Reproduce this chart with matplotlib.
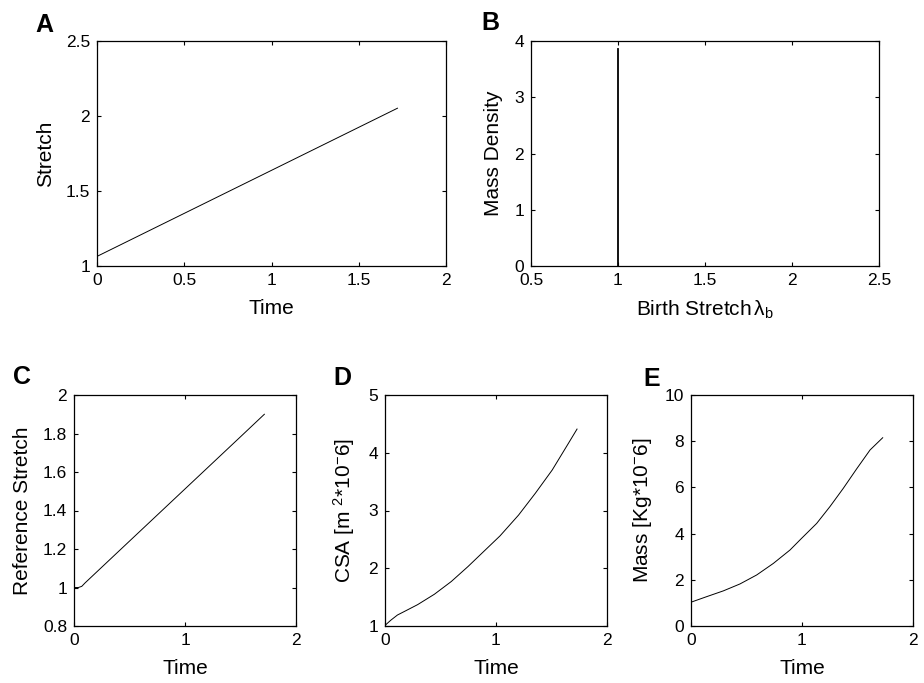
import numpy as np
import matplotlib
matplotlib.use('Agg')
from matplotlib import pyplot as plt

plt.rcParams['font.family'] = ['Liberation Sans', 'DejaVu Sans']
plt.rcParams['mathtext.fontset'] = 'custom'
plt.rcParams['mathtext.rm'] = 'Liberation Sans'
plt.rcParams['mathtext.it'] = 'Liberation Sans:italic'

# A: stretch vs time
time_a = [0.0, 1.722]
stretch_a = [1.064, 2.052]

# B: mass density over birth stretch (spike at lambda_b = 1)
birth_stretch = [1.0, 1.0]
mass_density = [0.0, 3.85]

# C: reference stretch vs time
time_c = [0.0, 0.04, 0.07, 0.1, 0.5, 1.0, 1.5, 1.715]
ref_stretch = [1.0, 1.0, 1.006, 1.024, 1.241, 1.512, 1.783, 1.90]

# D: cross sectional area vs time
time_d = [0.0, 0.052, 0.112, 0.173, 0.294, 0.445, 0.597, 0.748, 0.9, 1.036,
          1.203, 1.355, 1.506, 1.642, 1.73]
csa = [1.01, 1.10, 1.19, 1.25, 1.37, 1.55, 1.77, 2.03, 2.31, 2.56, 2.92,
       3.30, 3.70, 4.13, 4.41]

# E: mass vs time
time_e = [0.0, 0.141, 0.291, 0.441, 0.592, 0.742, 0.892, 0.991, 1.132,
          1.252, 1.372, 1.492, 1.613, 1.727]
mass = [1.03, 1.27, 1.52, 1.82, 2.21, 2.71, 3.29, 3.77, 4.44, 5.17, 5.96,
        6.80, 7.62, 8.15]

W, H = 924, 683
fig = plt.figure(figsize=(W / 100, H / 100), dpi=100)


def px_axes(x0, y0, x1, y1):
  return fig.add_axes([x0 / W, 1 - y1 / H, (x1 - x0) / W, (y1 - y0) / H])


def style(ax, xlim, ylim, xticks, yticks, xlabel, ylabel):
  ax.set_xlim(*xlim)
  ax.set_ylim(*ylim)
  ax.set_xticks(xticks)
  ax.set_yticks(yticks)
  ax.set_xticklabels([f'{v:g}' for v in xticks])
  ax.set_yticklabels([f'{v:g}' for v in yticks])
  ax.tick_params(direction='in', top=True, right=True, length=3, width=0.8,
                 labelsize=12.5, pad=5)
  for s in ax.spines.values():
    s.set_linewidth(0.9)
  ax.set_xlabel(xlabel, fontsize=15, labelpad=8)
  ax.set_ylabel(ylabel, fontsize=15, labelpad=8)


ax_a = px_axes(97, 41, 446, 266)
ax_a.plot(time_a, stretch_a, color='k', lw=0.7)
style(ax_a, (0, 2), (1, 2.5), [0, 0.5, 1, 1.5, 2], [1, 1.5, 2, 2.5],
      'Time', 'Stretch')

ax_b = px_axes(531, 41, 879, 266)
ax_b.plot(birth_stretch, mass_density, color='k', lw=1.3)
style(ax_b, (0.5, 2.5), (0, 4), [0.5, 1, 1.5, 2, 2.5], [0, 1, 2, 3, 4],
      'Birth Stretch$\\,\\mathrm{\\lambda}_\\mathrm{b}$', 'Mass Density')

ax_c = px_axes(74, 395, 296, 626)
ax_c.plot(time_c, ref_stretch, color='k', lw=0.7)
style(ax_c, (0, 2), (0.8, 2), [0, 1, 2], [0.8, 1, 1.2, 1.4, 1.6, 1.8, 2],
      'Time', 'Reference Stretch')

ax_d = px_axes(385, 395, 607, 626)
ax_d.plot(time_d, csa, color='k', lw=0.7)
style(ax_d, (0, 2), (1, 5), [0, 1, 2], [1, 2, 3, 4, 5],
      'Time', 'CSA [m $^{2}$*10$^{-}$6]')

ax_e = px_axes(691, 395, 913, 626)
ax_e.plot(time_e, mass, color='k', lw=0.7)
style(ax_e, (0, 2), (0, 10), [0, 1, 2], [0, 2, 4, 6, 8, 10],
      'Time', 'Mass [Kg*10$^{-}$6]')

# panel letters
for letter, x, y in [('A', 35, 32), ('B', 481, 30), ('C', 13, 384),
                     ('D', 333, 385), ('E', 643, 386)]:
  fig.text(x / W, 1 - y / H, letter, fontsize=18, fontweight='bold',
           va='baseline', ha='left')

fig.savefig('out.png', dpi=100)
